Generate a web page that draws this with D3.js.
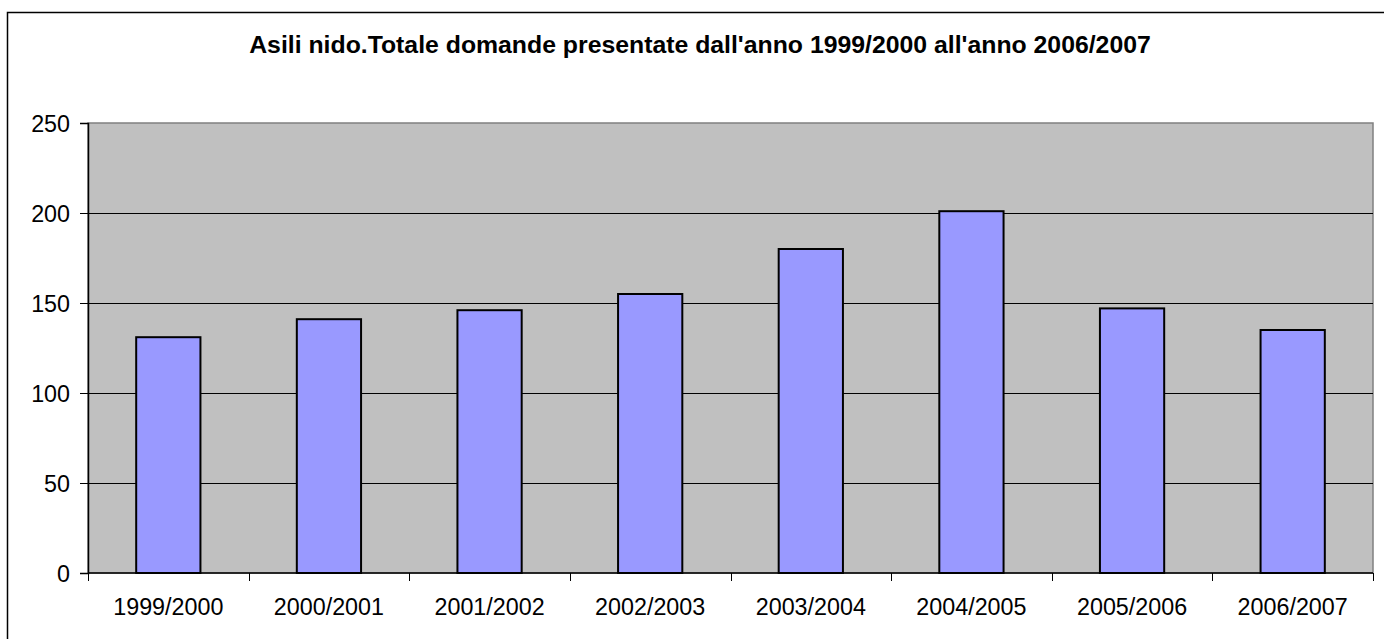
<!DOCTYPE html>
<html><head><meta charset="utf-8">
<script src="https://cdn.jsdelivr.net/npm/d3@7"></script>
<style>html,body{margin:0;padding:0;background:#fff;overflow:hidden}</style>
</head><body>
<svg id="c" width="1384" height="639"></svg>
<script>
const categories = ["1999/2000","2000/2001","2001/2002","2002/2003","2003/2004","2004/2005","2005/2006","2006/2007"];
const values = [131, 141, 146, 155, 180, 201, 147, 135];
const yTicks = [0, 50, 100, 150, 200, 250];
const title = "Asili nido.Totale domande presentate dall'anno 1999/2000 all'anno 2006/2007";

const svg = d3.select("#c");
const font = "'Liberation Sans', Arial, sans-serif";
const m = {left: 88, right: 1373, top: 123, bottom: 573};

svg.append("rect").attr("x", 7.5).attr("y", 12.5).attr("width", 1384).attr("height", 640)
  .attr("fill", "#fff").attr("stroke", "#000").attr("stroke-width", 1.5);

svg.append("text").attr("x", 700).attr("y", 53).attr("text-anchor", "middle")
  .attr("font-family", font).attr("font-weight", "bold").attr("font-size", 24.8).text(title);

const x = d3.scaleBand().domain(categories).range([m.left, m.right]).padding(0);
const y = d3.scaleLinear().domain([0, 250]).range([m.bottom, m.top]);

svg.append("rect").attr("x", m.left).attr("y", m.top).attr("width", m.right - m.left).attr("height", m.bottom - m.top)
  .attr("fill", "#c0c0c0").attr("stroke", "#808080").attr("stroke-width", 1.5);

svg.append("g").selectAll("line").data(yTicks.filter(t => t > 0 && t < 250)).join("line")
  .attr("x1", m.left).attr("x2", m.right).attr("y1", d => Math.round(y(d)) + 0.5).attr("y2", d => Math.round(y(d)) + 0.5)
  .attr("stroke", "#000").attr("stroke-width", 1);

const bw = x.step() / 2.5;
svg.append("g").selectAll("rect").data(values).join("rect")
  .attr("x", (d, i) => x(categories[i]) + (x.step() - bw) / 2)
  .attr("y", d => y(d)).attr("width", bw).attr("height", d => y(0) - y(d))
  .attr("fill", "#9999ff").attr("stroke", "#000").attr("stroke-width", 2);

// y axis
const ya = svg.append("g").attr("transform", `translate(${m.left},0)`)
  .call(d3.axisLeft(y).tickValues(yTicks).tickSize(8).tickPadding(10));
ya.select(".domain").attr("stroke", "#000").attr("stroke-width", 1.5);
ya.selectAll("line").attr("stroke", "#000");
ya.selectAll("text").attr("font-family", font).attr("font-size", 23.3).attr("fill", "#000").attr("dy", "0.35em");

// x axis
const xa = svg.append("g").attr("transform", `translate(0,${m.bottom})`);
xa.append("line").attr("x1", m.left).attr("x2", m.right).attr("y1", 0).attr("y2", 0).attr("stroke", "#000").attr("stroke-width", 1.5);
const edges = categories.map(c => x(c)).concat([m.right]);
xa.selectAll(".tk").data(edges).join("line").attr("class", "tk")
  .attr("x1", d => Math.round(d) + 0.5).attr("x2", d => Math.round(d) + 0.5).attr("y1", 0).attr("y2", 8).attr("stroke", "#000");
xa.selectAll(".lb").data(categories).join("text").attr("class", "lb")
  .attr("x", d => x(d) + x.step() / 2).attr("y", 42).attr("text-anchor", "middle")
  .attr("font-family", font).attr("font-size", 23.3).attr("fill", "#000").text(d => d);
</script>
</body></html>
